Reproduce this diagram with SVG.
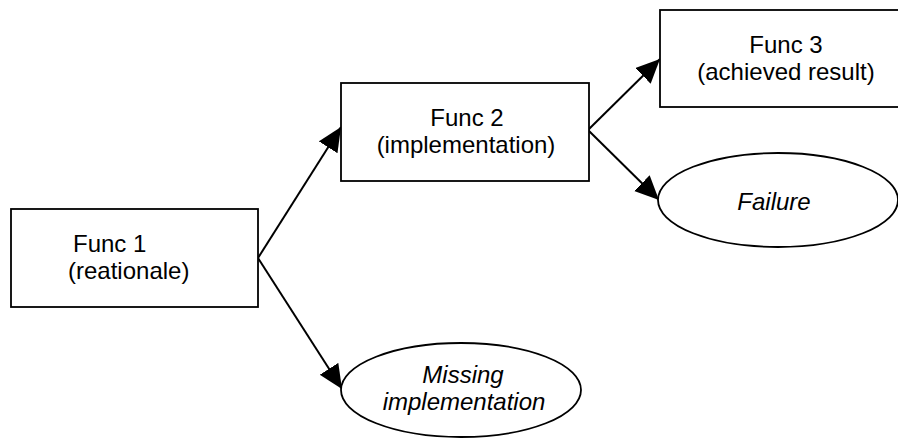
<svg xmlns="http://www.w3.org/2000/svg" width="898" height="439" viewBox="0 0 898 439">
<style>
.box{fill:#fff;stroke:#000;stroke-width:1.8}
.t{font-family:"Liberation Sans",Arial,sans-serif;font-size:24px;fill:#000}
.c{text-anchor:middle}
.i{font-style:italic}
.e{fill:none;stroke:#000;stroke-width:2}
</style>
<defs>
<marker id="ah" markerUnits="userSpaceOnUse" markerWidth="26" markerHeight="24" refX="24" refY="11" orient="auto">
<path d="M0,0 L24,11 L0,22 z" fill="#000"/>
</marker>
</defs>
<rect width="898" height="439" fill="#fff"/>
<g id="connectors">
<line class="e" x1="258" y1="258" x2="341" y2="127" marker-end="url(#ah)"/>
<line class="e" x1="258" y1="258" x2="342" y2="389" marker-end="url(#ah)"/>
<line class="e" x1="588" y1="130" x2="660" y2="59" marker-end="url(#ah)"/>
<line class="e" x1="588" y1="130" x2="659" y2="200" marker-end="url(#ah)"/>
</g>
<g id="func1">
<rect class="box" x="11" y="209" width="247" height="98"/>
<text class="t" x="73" y="252">Func 1</text>
<text class="t" x="68" y="279">(reationale)</text>
</g>
<g id="func2">
<rect class="box" x="341" y="83" width="248" height="98"/>
<text class="t c" x="467" y="126">Func 2</text>
<text class="t c" x="466" y="153">(implementation)</text>
</g>
<g id="func3">
<rect class="box" x="660" y="10" width="250" height="97"/>
<text class="t c" x="786" y="53">Func 3</text>
<text class="t c" x="786" y="80">(achieved result)</text>
</g>
<g id="failure">
<ellipse class="box" cx="778" cy="200" rx="120" ry="47"/>
<text class="t c i" x="774" y="210">Failure</text>
</g>
<g id="missing">
<ellipse class="box" cx="461" cy="390" rx="120" ry="47"/>
<text class="t c i" x="463" y="383">Missing</text>
<text class="t c i" x="464" y="410">implementation</text>
</g>
</svg>
